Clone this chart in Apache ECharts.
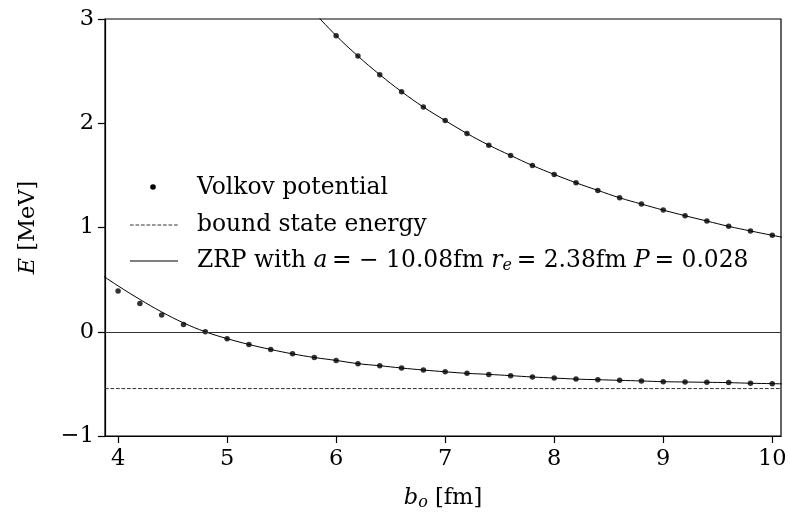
<!DOCTYPE html>
<html>
<head>
<meta charset="utf-8">
<script src="https://cdn.jsdelivr.net/npm/echarts@6/dist/echarts.min.js"></script>
<style>html,body{margin:0;padding:0;background:#fff}#c{width:790px;height:517px}</style>
</head>
<body>
<div id="c"></div>
<script>
// Volkov potential (dots)
const volkovB = [4.0,4.2,4.4,4.6,4.8,5.0,5.2,5.4,5.6,5.8,6.0,6.2,6.4,6.6,6.8,7.0,7.2,7.4,7.6,7.8,8.0,8.2,8.4,8.6,8.8,9.0,9.2,9.4,9.6,9.8,10.0];
const volkovLowerE = [0.39,0.27,0.16,0.07,0.0,-0.066,-0.122,-0.17,-0.212,-0.247,-0.275,-0.306,-0.326,-0.348,-0.367,-0.384,-0.399,-0.409,-0.421,-0.434,-0.444,-0.454,-0.46,-0.466,-0.472,-0.479,-0.482,-0.485,-0.488,-0.494,-0.498];
const volkovUpperB = [6.0,6.2,6.4,6.6,6.8,7.0,7.2,7.4,7.6,7.8,8.0,8.2,8.4,8.6,8.8,9.0,9.2,9.4,9.6,9.8,10.0];
const volkovUpperE = [2.84,2.644,2.466,2.303,2.156,2.026,1.902,1.79,1.691,1.595,1.509,1.429,1.356,1.285,1.225,1.167,1.113,1.062,1.011,0.967,0.925];

// ZRP curves (end values are estimates just outside the frame)
const zrpLowerB = [3.8,4.0,4.2,4.4,4.6,4.8,5.0,5.2,5.4,5.6,5.8,6.0,6.2,6.4,6.6,6.8,7.0,7.2,7.4,7.6,7.8,8.0,8.2,8.4,8.6,8.8,9.0,9.2,9.4,9.6,9.8,10.0,10.2];
const zrpLowerE = [0.58,0.44,0.31,0.19,0.085,0.0,-0.066,-0.122,-0.17,-0.212,-0.247,-0.275,-0.306,-0.326,-0.348,-0.367,-0.384,-0.399,-0.409,-0.421,-0.434,-0.444,-0.454,-0.46,-0.466,-0.472,-0.479,-0.482,-0.485,-0.488,-0.494,-0.498,-0.502];
const zrpUpperB = [5.8,6.0,6.2,6.4,6.6,6.8,7.0,7.2,7.4,7.6,7.8,8.0,8.2,8.4,8.6,8.8,9.0,9.2,9.4,9.6,9.8,10.0,10.2];
const zrpUpperE = [3.06,2.84,2.644,2.466,2.303,2.156,2.026,1.902,1.79,1.691,1.595,1.509,1.429,1.356,1.285,1.225,1.167,1.113,1.062,1.011,0.967,0.925,0.885];

// bound state energy
const boundB = [3.88,10.08];
const boundE = [-0.545,-0.545];

// axes
const xTicks = [4,5,6,7,8,9,10];
const xMin = 3.88, xMax = 10.08;
const yMin = -1, yMax = 3;

const FONT = 'DejaVu Serif';
const FS = 22.5;
const LFS = 23.4;
const zip = (a,b) => a.map((v,i)=>[v,b[i]]);

const chart = echarts.init(document.getElementById('c'), null, {renderer:'canvas'});
chart.setOption({
  animation:false,
  backgroundColor:'#fff',
  grid:{left:105,right:9,top:19,bottom:81,show:true,borderColor:'#000',borderWidth:1.2,backgroundColor:'transparent'},
  xAxis:{
    type:'value',min:xMin,max:xMax,
    axisLine:{show:true,onZero:false,lineStyle:{color:'#000',width:1.2}},
    axisTick:{show:true,customValues:xTicks,length:7,lineStyle:{color:'#000',width:1.2}},
    axisLabel:{customValues:xTicks,color:'#000',fontFamily:FONT,fontSize:FS,margin:12},
    splitLine:{show:false},
    name:'{i|b}{s|o} [fm]',nameLocation:'middle',nameGap:50,
    nameTextStyle:{color:'#000',fontFamily:FONT,fontSize:FS,
      rich:{i:{fontFamily:FONT,fontStyle:'italic',fontSize:FS,color:'#000'},
            s:{fontFamily:FONT,fontStyle:'italic',fontSize:16,color:'#000',verticalAlign:'bottom',padding:[9,0,0,0]}}}
  },
  yAxis:{
    type:'value',min:yMin,max:yMax,interval:1,
    axisLine:{show:true,onZero:false,lineStyle:{color:'#000',width:1.2}},
    axisTick:{show:true,length:7,lineStyle:{color:'#000',width:1.2}},
    axisLabel:{color:'#000',fontFamily:FONT,fontSize:FS,margin:11,
      formatter:v=> v<0 ? '\u2212'+Math.abs(v) : String(v)},
    splitLine:{show:false},
    name:'{i|E} [MeV]',nameLocation:'middle',nameGap:65,nameRotate:90,
    nameTextStyle:{color:'#000',fontFamily:FONT,fontSize:FS,
      rich:{i:{fontFamily:FONT,fontStyle:'italic',fontSize:FS,color:'#000'}}}
  },
  series:[
    {name:'bound state energy',type:'line',data:zip(boundB,boundE),showSymbol:false,
      lineStyle:{color:'#333',width:1,type:[3.7,1.8]},silent:true,z:2,
      markLine:{silent:true,symbol:'none',label:{show:false},
        lineStyle:{color:'#333',width:1,type:'solid'},data:[{yAxis:0}]}},
    {name:'ZRP lower',type:'line',data:zip(zrpLowerB,zrpLowerE),smooth:0.4,showSymbol:false,
      lineStyle:{color:'#000',width:1},silent:true,z:3},
    {name:'ZRP upper',type:'line',data:zip(zrpUpperB,zrpUpperE),smooth:0.4,showSymbol:false,
      lineStyle:{color:'#000',width:1},silent:true,z:3},
    {name:'Volkov lower',type:'scatter',data:zip(volkovB,volkovLowerE),symbol:'circle',symbolSize:5.5,
      itemStyle:{color:'#000'},silent:true,z:4},
    {name:'Volkov upper',type:'scatter',data:zip(volkovUpperB,volkovUpperE),symbol:'circle',symbolSize:5.5,
      itemStyle:{color:'#000'},silent:true,z:4}
  ],
  graphic:[
    {type:'circle',shape:{cx:153,cy:187,r:2.8},style:{fill:'#000'}},
    {type:'text',x:197,y:188,style:{text:'Volkov potential',font:LFS+'px "DejaVu Serif"',fill:'#000',verticalAlign:'middle'}},
    {type:'line',shape:{x1:130,y1:225,x2:178,y2:225},style:{stroke:'#333',lineWidth:1,lineDash:[3.7,1.8]}},
    {type:'text',x:197,y:225,style:{text:'bound state energy',font:LFS+'px "DejaVu Serif"',fill:'#000',verticalAlign:'middle'}},
    {type:'line',shape:{x1:130,y1:261,x2:178,y2:261},style:{stroke:'#000',lineWidth:1}},
    {type:'text',x:197,y:261,style:{
      text:'ZRP with {i|a}\u2009= \u2212 10.08fm {i|r}{s|e}\u2009= 2.38fm {i|P}\u2009= 0.028',
      font:LFS+'px "DejaVu Serif"',fill:'#000',verticalAlign:'middle',
      rich:{i:{fontFamily:FONT,fontStyle:'italic',fontSize:LFS,fill:'#000'},
            s:{fontFamily:FONT,fontStyle:'italic',fontSize:16,fill:'#000',padding:[9,0,0,0]}}}}
  ]
});
</script>
</body>
</html>
